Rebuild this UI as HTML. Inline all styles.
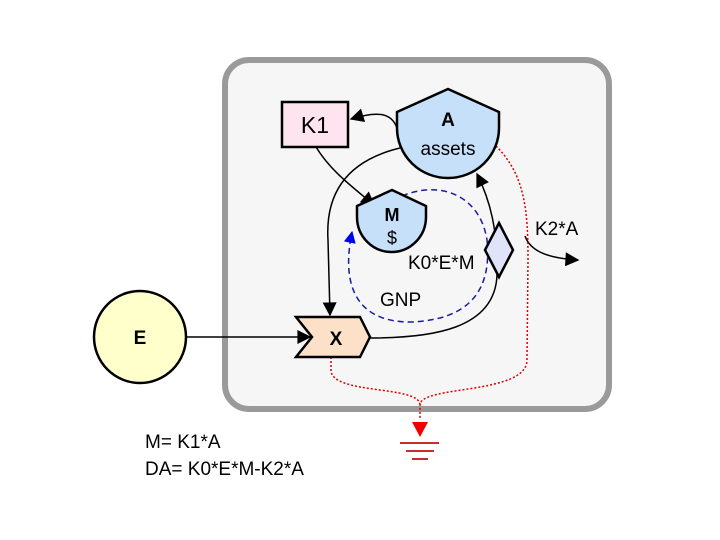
<!DOCTYPE html>
<html><head><meta charset="utf-8"><style>
body{margin:0;background:#fff}
svg{display:block;font-family:"Liberation Sans",sans-serif}
</style></head><body>
<svg width="720" height="540" viewBox="0 0 720 540">
<defs>
<marker id="ak" viewBox="0 0 10 10" refX="9" refY="5" markerWidth="20" markerHeight="14" orient="auto" markerUnits="userSpaceOnUse"><path d="M0,0 L10,5 L0,10 Z" fill="#000"/></marker>
<marker id="abl" viewBox="0 0 10 10" refX="9" refY="5" markerWidth="16" markerHeight="12" orient="auto" markerUnits="userSpaceOnUse"><path d="M0,0 L10,5 L0,10 Z" fill="#0000ee"/></marker>
</defs>
<rect x="225" y="60" width="384" height="349" rx="24" fill="#f6f6f6" stroke="#9a9a9a" stroke-width="6"/>
<path d="M186,337 L310,337" stroke="#000" stroke-width="1.5" fill="none" marker-end="url(#ak)"/>
<path d="M397,128 C392,114 380,110 351,119" stroke="#000" stroke-width="1.5" fill="none" marker-end="url(#ak)"/>
<path d="M316,147 C330,170 350,185 374,205" stroke="#000" stroke-width="1.5" fill="none" marker-end="url(#ak)"/>
<path d="M400,148 C350,160 325,190 328,240 L330,315" stroke="#000" stroke-width="1.5" fill="none" marker-end="url(#ak)"/>
<path d="M370,338 C430,338 495,330 497,275 C498,230 490,200 477,174" stroke="#000" stroke-width="1.5" fill="none" marker-end="url(#ak)"/>
<path d="M525,236 C530,250 545,258 578,260" stroke="#000" stroke-width="1.5" fill="none" marker-end="url(#ak)"/>
<path d="M402,196 C440,180 480,195 487,240 C492,290 470,320 410,322 C360,322 340,290 352,232" stroke="#1a1aa0" stroke-width="1.5" stroke-dasharray="6,4" fill="none" marker-end="url(#abl)"/>
<path d="M496,146 C525,175 528,210 528,260 L527,360 C527,395 420,385 420,405 L420,420" stroke="#d00" stroke-width="1.5" stroke-dasharray="2,2" fill="none"/>
<path d="M331,357 L331,370 C331,395 420,385 420,405" stroke="#d00" stroke-width="1.5" stroke-dasharray="2,2" fill="none"/>
<path d="M412,422 L428,422 L420,437 Z" fill="#e00"/>
<path d="M400,443 L439,443 M406,451 L434,451 M412,459 L428,459" stroke="#c03030" stroke-width="2"/>
<circle cx="140" cy="337" r="46" fill="#ffffcc" stroke="#000" stroke-width="2.5"/>
<text x="140" y="344" font-size="19" font-weight="bold" text-anchor="middle">E</text>
<rect x="282" y="102" width="66" height="45" fill="#fde4ee" stroke="#000" stroke-width="2.5"/>
<text x="315" y="133" font-size="23" text-anchor="middle">K1</text>
<path d="M397,112 L448,89 L499,112 L499,128 A51,50 0 0 1 397,128 Z" fill="#c6e0fa" stroke="#000" stroke-width="2.5"/>
<text x="448" y="126" font-size="19" font-weight="bold" text-anchor="middle">A</text>
<text x="448" y="155" font-size="19" text-anchor="middle">assets</text>
<path d="M357,206 L392,190 L426,206 L426,217 A34.5,35 0 0 1 357,217 Z" fill="#c6e0fa" stroke="#000" stroke-width="2.5"/>
<text x="392" y="221" font-size="18" font-weight="bold" text-anchor="middle">M</text>
<text x="392" y="244" font-size="18" text-anchor="middle">$</text>
<path d="M499,223 L513,250 L499,277 L485,250 Z" fill="#e0e4fa" stroke="#000" stroke-width="2.5"/>
<path d="M296,317 L360,317 L370,337 L360,357 L296,357 L312,337 Z" fill="#fde0c8" stroke="#000" stroke-width="2.5"/>
<text x="336" y="345" font-size="19" font-weight="bold" text-anchor="middle">X</text>
<text x="535" y="235" font-size="19">K2*A</text>
<text x="408" y="269" font-size="19">K0*E*M</text>
<text x="380" y="306" font-size="19">GNP</text>
<text x="145" y="448" font-size="19">M= K1*A</text>
<text x="145" y="475" font-size="19">DA= K0*E*M-K2*A</text>
</svg>
</body></html>
